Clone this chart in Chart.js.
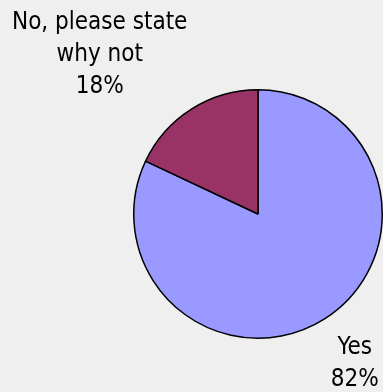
<!DOCTYPE html>
<html>
<head>
<meta charset="utf-8">
<script src="https://cdn.jsdelivr.net/npm/chart.js@4"></script>
<style>
  html, body { margin: 0; padding: 0; background: #efefef; }
  canvas { display: block; }
</style>
</head>
<body>
<canvas id="pieChart" width="383" height="392"></canvas>
<script>
// データ
const categories = ['Yes', 'No, please state why not'];
const labelLines = [['Yes', '82%'], ['No, please state', 'why not', '18%']];
const percentValues = [82, 18];
const sliceColors = ['#9999ff', '#993366'];

// ラベル位置（半径に対する倍率）
const labelOffsets = [[0.778, 1.254], [-1.274, -1.23]];

const outsideLabels = {
  id: 'outsideLabels',
  afterDraw(chart) {
    const c = chart.ctx;
    const meta = chart.getDatasetMeta(0);
    c.save();
    c.font = '24px "DejaVu Sans Condensed", "DejaVu Sans", sans-serif';
    if ('fontStretch' in c) c.fontStretch = 'condensed';
    c.fillStyle = '#000';
    c.textAlign = 'center';
    c.textBaseline = 'alphabetic';
    meta.data.forEach((arc, i) => {
      const r = arc.outerRadius;
      const x = arc.x + labelOffsets[i][0] * r;
      const y = arc.y + labelOffsets[i][1] * r;
      const lines = labelLines[i];
      lines.forEach((t, j) => {
        c.fillText(t, x, y + (j - (lines.length - 1) / 2) * 32);
      });
    });
    c.restore();
  }
};

const ctx = document.getElementById('pieChart').getContext('2d');
const pieChart = new Chart(ctx, {
  type: 'pie',
  data: {
    labels: categories,
    datasets: [{
      data: percentValues,
      backgroundColor: sliceColors,
      borderColor: '#000',
      borderWidth: 1.5
    }]
  },
  options: {
    responsive: false,
    animation: false,
    layout: { padding: { left: 133, right: 0, top: 89, bottom: 53 } },
    plugins: {
      legend: { display: false },
      tooltip: { enabled: false }
    }
  },
  plugins: [outsideLabels]
});
</script>
</body>
</html>
